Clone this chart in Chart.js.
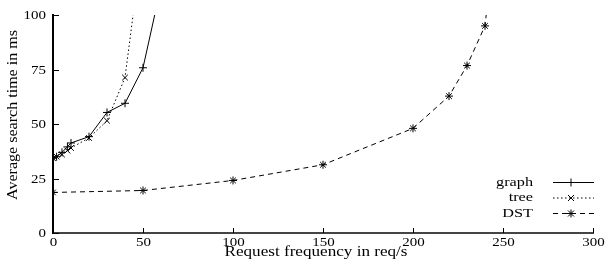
<!DOCTYPE html>
<html>
<head>
<meta charset="utf-8">
<script src="https://cdn.jsdelivr.net/npm/chart.js@4/dist/chart.umd.min.js"></script>
<style>
  html, body { margin: 0; padding: 0; background: #fff; }
  #wrap { width: 608px; height: 264px; }
</style>
</head>
<body>
<div id="wrap"><canvas id="pChart" width="608" height="264"></canvas></div>
<script>
// values (points above 100 are clipped like the original)
const graphFreq = [0, 2, 5, 8, 10, 20, 30, 40, 50, 60];
const graphTime = [34.3, 35, 37, 39.5, 41.3, 44.2, 55.3, 59.5, 75.8, 113];
const treeFreq = [0, 2, 5, 8, 10, 20, 30, 40, 50];
const treeTime = [34.3, 35, 36, 37.8, 39, 43.6, 51.5, 71.3, 135];
const dstFreq = [0, 50, 100, 150, 200, 220, 230, 240, 250];
const dstTime = [18.6, 19.5, 24.1, 31.3, 48, 62.8, 76.8, 95, 170];
const xTicks = [0, 50, 100, 150, 200, 250, 300];
const yTicks = [0, 25, 50, 75, 100];
const seriesNames = ['graph', 'tree', 'DST'];
const xTitle = 'Request frequency in req/s';
const yTitle = 'Average search time in ms';

const serif = "'Liberation Serif', 'DejaVu Serif', serif";
const toPts = (xs, ys) => xs.map((x, i) => ({x: x, y: ys[i]}));

// the original text is stretched sideways, so text is drawn by hand
// sx < 0 means "fit to width -sx"
const wideText = (ctx, txt, x, y, size, sx, align) => {
  ctx.save();
  ctx.font = size + 'px ' + serif;
  ctx.textBaseline = 'middle';
  ctx.textAlign = 'left';
  const nat = ctx.measureText(txt).width;
  if (sx < 0) sx = -sx / nat;
  const w = nat * sx;
  let left = x;
  if (align === 'center') left = x - w / 2;
  if (align === 'right') left = x - w;
  ctx.translate(left, y);
  ctx.scale(sx, 1);
  ctx.fillText(txt, 0, 0);
  ctx.restore();
};

const drawMarker = (ctx, style, x, y, r) => {
  ctx.beginPath();
  if (style === 'cross' || style === 'star') {
    ctx.moveTo(x - r, y); ctx.lineTo(x + r, y);
    ctx.moveTo(x, y - r); ctx.lineTo(x, y + r);
  }
  if (style === 'crossRot' || style === 'star') {
    const d = r * 0.75;
    ctx.moveTo(x - d, y - d); ctx.lineTo(x + d, y + d);
    ctx.moveTo(x - d, y + d); ctx.lineTo(x + d, y - d);
  }
  ctx.stroke();
};

// gnuplot style inward ticks, labels + key
const gnuplotBits = {
  id: 'gnuplotBits',
  afterDraw(chart) {
    const ctx = chart.ctx;
    const xs = chart.scales.x, ys = chart.scales.y;
    const a = chart.chartArea;
    ctx.save();
    ctx.strokeStyle = '#000';
    ctx.fillStyle = '#000';
    ctx.lineWidth = 1;
    ctx.setLineDash([]);
    xTicks.forEach(t => {
      const px = Math.round(xs.getPixelForValue(t)) + 0.5;
      ctx.beginPath(); ctx.moveTo(px, a.bottom); ctx.lineTo(px, a.bottom - 5); ctx.stroke();
      wideText(ctx, String(t), px, 243, 11.5, 1.3, 'center');
    });
    yTicks.forEach(t => {
      const py = Math.round(ys.getPixelForValue(t)) + 0.5;
      ctx.beginPath(); ctx.moveTo(a.left, py); ctx.lineTo(a.left + 6, py); ctx.stroke();
      wideText(ctx, String(t), 46, py, 11.5, 1.3, 'right');
    });

    // axis titles
    wideText(ctx, xTitle, 316, 252, 14, -183, 'center');
    ctx.save();
    ctx.translate(13, 115);
    ctx.rotate(-Math.PI / 2);
    wideText(ctx, yTitle, 0, 0, 15, -170, 'center');
    ctx.restore();

    // key
    const rows = [182.5, 198, 213.5];
    chart.data.datasets.forEach((ds, i) => {
      const y = rows[i];
      wideText(ctx, seriesNames[i], 533, y, 12.5, 1.3, 'right');
      ctx.setLineDash(ds.borderDash || []);
      ctx.beginPath(); ctx.moveTo(553, y); ctx.lineTo(594, y); ctx.stroke();
      ctx.setLineDash([]);
      drawMarker(ctx, ds.pointStyle, 571, y, 4);
    });
    ctx.restore();
  }
};

const config = {
  type: 'scatter',
  data: {
    datasets: [
      {label: seriesNames[0], data: toPts(graphFreq, graphTime), showLine: true,
       borderColor: '#000', borderWidth: 1, pointStyle: 'cross', pointRadius: 4,
       pointBorderColor: '#000', pointBorderWidth: 1},
      {label: seriesNames[1], data: toPts(treeFreq, treeTime), showLine: true,
       borderColor: '#000', borderWidth: 1, borderDash: [1.5, 2.5], pointStyle: 'crossRot', pointRadius: 4,
       pointBorderColor: '#000', pointBorderWidth: 1},
      {label: seriesNames[2], data: toPts(dstFreq, dstTime), showLine: true,
       borderColor: '#000', borderWidth: 1, borderDash: [5, 4], pointStyle: 'star', pointRadius: 4,
       pointBorderColor: '#000', pointBorderWidth: 1}
    ]
  },
  options: {
    responsive: false,
    animation: false,
    clip: 0,
    layout: {padding: {top: 15, right: 15, left: 0, bottom: 0}},
    plugins: {legend: {display: false}, tooltip: {enabled: false}},
    scales: {
      x: {
        type: 'linear', min: 0, max: 300,
        afterBuildTicks: s => { s.ticks = xTicks.map(v => ({value: v})); },
        afterFit: s => { s.height = 31; },
        grid: {display: false},
        border: {display: true, color: '#444', width: 2},
        ticks: {display: false}
      },
      y: {
        type: 'linear', min: 0, max: 100,
        afterBuildTicks: s => { s.ticks = yTicks.map(v => ({value: v})); },
        afterFit: s => { s.width = 53; },
        grid: {display: false},
        border: {display: true, color: '#000', width: 2},
        ticks: {display: false}
      }
    }
  },
  plugins: [gnuplotBits]
};

const myChart = new Chart(document.getElementById('pChart'), config);
</script>
</body>
</html>
